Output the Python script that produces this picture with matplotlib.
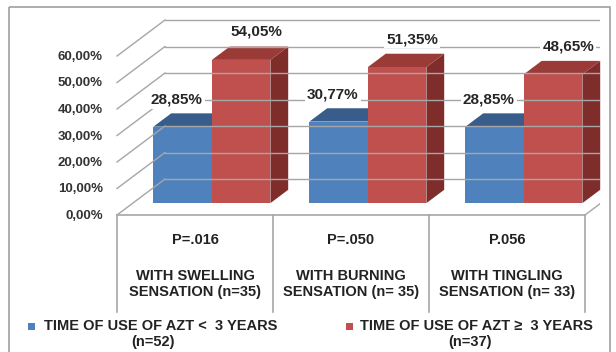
import matplotlib
matplotlib.use('Agg')
import matplotlib.pyplot as plt
from matplotlib.patches import Polygon, Rectangle

plt.rcParams['font.family'] = ['Liberation Sans', 'DejaVu Sans']

# Data
groups = ["WITH SWELLING\nSENSATION (n=35)",
          "WITH BURNING\nSENSATION (n= 35)",
          "WITH TINGLING\nSENSATION (n= 33)"]
p_values = ["P=.016", "P=.050", "P.056"]
under_3y = [28.85, 30.77, 28.85]
over_3y = [54.05, 51.35, 48.65]
series_names = ["TIME OF USE OF AZT <  3 YEARS\n(n=52)",
                "TIME OF USE OF AZT \u2265  3 YEARS\n(n=37)"]
y_ticks = [0, 10, 20, 30, 40, 50, 60]

BLUE = {'front': '#4F81BD', 'top': '#385D8A', 'side': '#2F4F7A'}
RED = {'front': '#C0504D', 'top': '#9A3B38', 'side': '#7E2D2B'}
GRID = '#A6A6A6'

# oblique 3D projection in pixel space
LEFT, WIDTH = 117, 468
BASE, SCALE = 215, 2.65
DX, DY = 48, -36


def proj(u, pct, d):
    return (LEFT + u * WIDTH + DX * d, BASE - pct * SCALE + DY * d)


fig = plt.figure(figsize=(6.16, 3.52), dpi=100)
ax = fig.add_axes([0, 0, 1, 1])
ax.set_xlim(0, 616)
ax.set_ylim(352, 0)
ax.axis('off')

clip = Rectangle((0, 0), 600, 352, transform=ax.transData)

# outer frame
ax.add_patch(Rectangle((9, 7), 601, 360, fill=False, ec='#A0A0A0', lw=1.2))

# back wall grid, side wall diagonals
for p in y_ticks:
    x0, y0 = proj(0, p, 1)
    x1, y1 = proj(1.1, p, 1)
    ln, = ax.plot([x0, x1], [y0, y1], color=GRID, lw=1)
    ln.set_clip_path(clip)
    fx, fy = proj(0, p, 0)
    ax.plot([fx, x0], [fy, y0], color=GRID, lw=1)
    ax.text(103, fy + 1, f"{p:.2f}%".replace('.', ','), ha='right', va='center',
            fontsize=9.5, fontweight='bold', color='#333333')

# floor right edge
fx, fy = proj(1, 0, 0)
bx, by = proj(1, 0, 1)
ln, = ax.plot([fx, bx], [fy, by], color=GRID, lw=1)
ln.set_clip_path(clip)

# bars
d0, d1 = 0.33, 0.70
gap, bw = 0.044, 0.125


def bar3d(u0, u1, v, c):
    front = [proj(u0, 0, d0), proj(u1, 0, d0), proj(u1, v, d0), proj(u0, v, d0)]
    top = [proj(u0, v, d0), proj(u1, v, d0), proj(u1, v, d1), proj(u0, v, d1)]
    side = [proj(u1, 0, d0), proj(u1, 0, d1), proj(u1, v, d1), proj(u1, v, d0)]
    ax.add_patch(Polygon(side, closed=True, fc=c['side'], ec='none'))
    ax.add_patch(Polygon(top, closed=True, fc=c['top'], ec='none'))
    ax.add_patch(Polygon(front, closed=True, fc=c['front'], ec='none'))


for i in range(len(groups)):
    ub = i / 3 + gap
    ur = ub + bw
    bar3d(ub, ub + bw, under_3y[i], BLUE)
    bar3d(ur, ur + bw, over_3y[i], RED)

    bx_, by_ = proj(ub + bw / 2, under_3y[i], d0)
    ax.annotate(f"{under_3y[i]:.2f}%".replace('.', ','), (bx_, by_),
                xytext=(-6, 27), textcoords='offset pixels', ha='center', va='center',
                fontsize=11, fontweight='bold', color='#262626',
                bbox=dict(fc='white', ec='none', pad=1.5))
    rx_, ry_ = proj(ur + bw / 2, over_3y[i], d0)
    ax.annotate(f"{over_3y[i]:.2f}%".replace('.', ','), (rx_, ry_),
                xytext=(15, 28), textcoords='offset pixels', ha='center', va='center',
                fontsize=11, fontweight='bold', color='#262626',
                bbox=dict(fc='white', ec='none', pad=1.5))

# data table
tx0, ty = proj(0, 0, 0)
tx1, _ = proj(1, 0, 0)
ax.plot([tx0, tx1], [ty, ty], color=GRID, lw=1.2)
for k in range(4):
    x, _ = proj(k / 3, 0, 0)
    ax.plot([x, x], [ty, 312], color=GRID, lw=1.2)
for i in range(len(groups)):
    cx, _ = proj(i / 3 + 1 / 6, 0, 0)
    ax.text(cx, 240, p_values[i], ha='center', va='center',
            fontsize=10.5, fontweight='bold', color='#222222')
    ax.text(cx, 284, groups[i], ha='center', va='center', linespacing=1.15,
            fontsize=10.5, fontweight='bold', color='#222222')

# legend
for (mx, tx, nx), name, c in zip([(31, 44, 153), (349, 360, 470)],
                                 series_names, [BLUE, RED]):
    ax.add_patch(Rectangle((mx - 3.5, 322.5), 7, 7, fc=c['front'], ec='none'))
    first, second = name.split('\n')
    ax.text(tx, 326, first, ha='left', va='center',
            fontsize=10.5, fontweight='bold', color='#222222')
    ax.text(nx, 342, second, ha='center', va='center',
            fontsize=10.5, fontweight='bold', color='#222222')

fig.savefig('out.png', dpi=100)
